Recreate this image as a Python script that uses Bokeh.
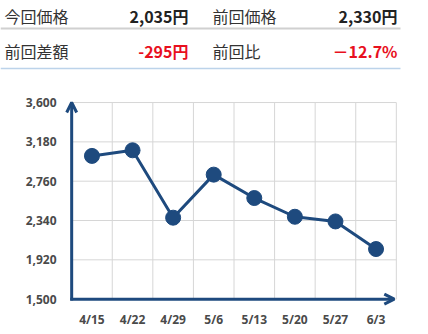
from bokeh.plotting import figure
from bokeh.layouts import column
from bokeh.models import (Range1d, FixedTicker, NumeralTickFormatter, Arrow, OpenHead)
from bokeh.core.properties import value
from bokeh.embed import file_html
from bokeh.resources import INLINE

# weekly price history
dates = ["4/15", "4/22", "4/29", "5/6", "5/13", "5/20", "5/27", "6/3"]
prices = [3030, 3090, 2370, 2830, 2580, 2380, 2330, 2035]
y_ticks = [1500, 1920, 2340, 2760, 3180, 3600]

NAVY = "#1e4a7e"
RED = "#e8101e"
JP_FONT = value("Noto Sans CJK JP")

current = prices[-1]
previous = prices[-2]
diff = current - previous
ratio = diff / previous * 100

# ---- summary table ----
head = figure(width=428, height=80, x_range=Range1d(0, 428), y_range=Range1d(80, 0),
              output_backend="svg", toolbar_location=None, min_border=0)
head.frame_align = False
head.axis.visible = False
head.grid.visible = False
head.outline_line_color = None

labels_left = ["今回価格", "前回差額"]
labels_right = ["前回価格", "前回比"]
vals_left = [f"{current:,}円", f"{diff:,}円"]
vals_right = [f"{previous:,}円", f"－{abs(ratio):.1f}%"]
row_y = [15, 50]
val_colors = ["#222222", RED]

head.text(x=[4, 4], y=row_y, text=labels_left, text_font=JP_FONT, text_font_size="16px",
          text_color="#333333", text_baseline="middle", text_align="left")
head.text(x=[212, 212], y=row_y, text=labels_right, text_font=JP_FONT, text_font_size="16px",
          text_color="#333333", text_baseline="middle", text_align="left")
head.text(x=[188, 188], y=row_y, text=vals_left, text_font=JP_FONT, text_font_size="16px",
          text_font_style="bold", text_color=val_colors, text_baseline="middle", text_align="right")
head.text(x=[397, 397], y=row_y, text=vals_right, text_font=JP_FONT, text_font_size="16px",
          text_font_style="bold", text_color=val_colors, text_baseline="middle", text_align="right")
head.segment(x0=[0], y0=[28], x1=[400], y1=[28], line_color="#d0d0d0", line_width=2)
head.segment(x0=[0], y0=[68], x1=[400], y1=[68], line_color="#bcd3ea", line_width=1.5)

# ---- price chart ----
n = len(dates)
y_lo, y_hi = y_ticks[0], y_ticks[-1]
p = figure(width=428, height=254,
           x_range=Range1d(-0.3, n + 0.3), y_range=Range1d(y_lo - 100, y_hi + 150),
           output_backend="svg", toolbar_location=None,
           min_border_left=59, min_border_right=20, min_border_top=8, min_border_bottom=26)
p.frame_align = False
p.outline_line_color = None
p.grid.visible = False

xs = [i + 0.5 for i in range(n)]

p.xaxis.ticker = FixedTicker(ticks=xs)
p.xaxis.major_label_overrides = {x: d for x, d in zip(xs, dates)}
p.yaxis.ticker = FixedTicker(ticks=y_ticks)
p.yaxis.formatter = NumeralTickFormatter(format="0,0")
for ax in (p.xaxis[0], p.yaxis[0]):
    ax.axis_line_color = None
    ax.major_tick_line_color = None
    ax.minor_tick_line_color = None
    ax.major_tick_out = 0
    ax.major_tick_in = 0
    ax.minor_tick_out = 0
    ax.major_label_text_font = "Open Sans"
    ax.major_label_text_font_size = "12px"
    ax.major_label_text_font_style = "bold"
    ax.major_label_text_color = "#4a4a4a"
p.xaxis.major_label_standoff = 2
p.yaxis.major_label_standoff = 3

# grid cells: boundaries between weeks and the price ticks
grid_x = list(range(n + 1))
p.segment(x0=grid_x, y0=[y_lo] * len(grid_x), x1=grid_x, y1=[y_hi] * len(grid_x),
          line_color="#d6d6d6", line_width=1)
p.segment(x0=[0] * len(y_ticks), y0=y_ticks, x1=[n] * len(y_ticks), y1=y_ticks,
          line_color="#d6d6d6", line_width=1)

p.line(xs, prices, line_color=NAVY, line_width=3)
p.scatter(xs, prices, size=15, fill_color=NAVY, line_color=NAVY)

# axes drawn as arrows
p.add_layout(Arrow(x_start=0, y_start=y_lo - 15, x_end=0, y_end=y_hi,
                   line_color=NAVY, line_width=3,
                   end=OpenHead(size=10, line_color=NAVY, line_width=3)))
p.add_layout(Arrow(x_start=-0.035, y_start=y_lo, x_end=n - 0.05, y_end=y_lo,
                   line_color=NAVY, line_width=3,
                   end=OpenHead(size=10, line_color=NAVY, line_width=3)))

layout = column(head, p, spacing=0)
open("out.html", "w").write(file_html(layout, INLINE))
